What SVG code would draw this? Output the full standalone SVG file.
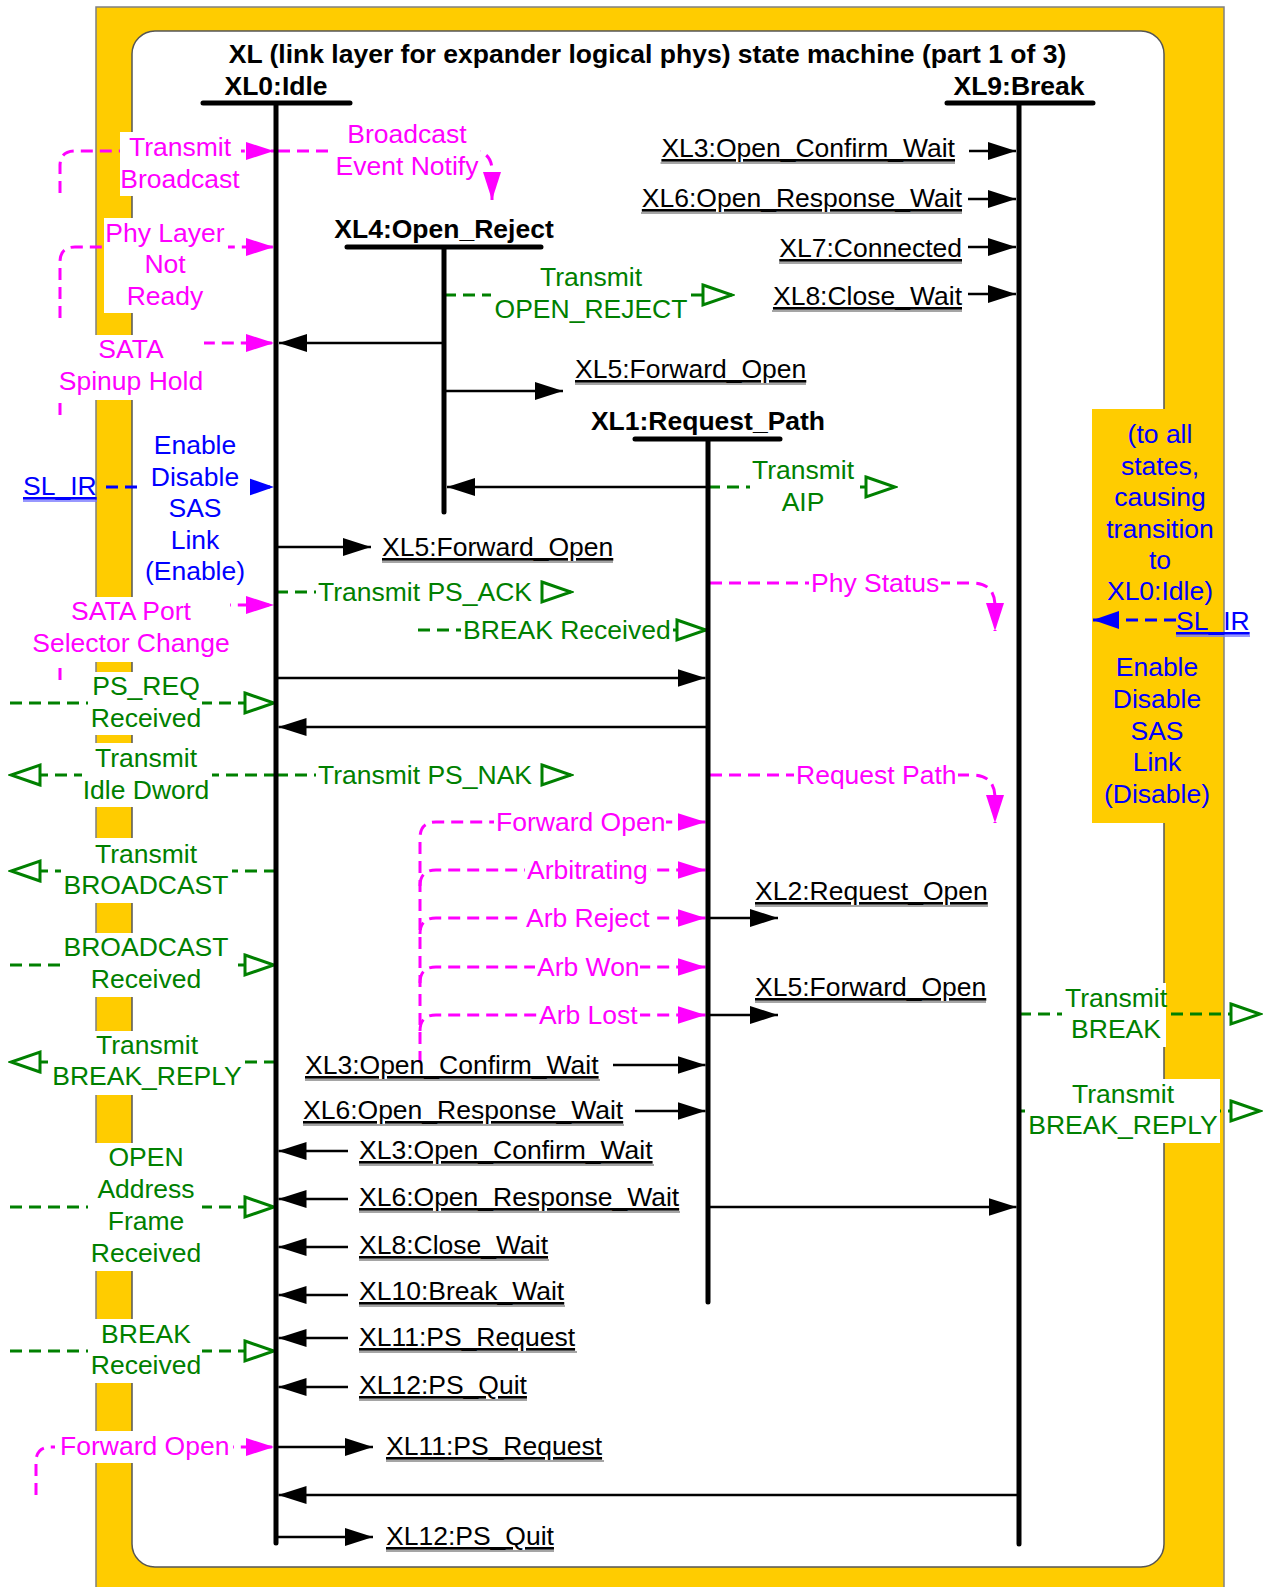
<svg xmlns="http://www.w3.org/2000/svg" width="1265" height="1587" viewBox="0 0 1265 1587">
<style>
.t{font-family:"Liberation Sans",Arial,sans-serif;font-size:26.5px}
.b{font-weight:bold}
.m{fill:#ff00ff}.g{fill:#008000}.bl{fill:#0000ff}.k{fill:#000}
.u{text-decoration:underline}
.mid{text-anchor:middle}.end{text-anchor:end}
.sl{stroke:#000;stroke-width:2.5;fill:none}
.dm{stroke:#ff00ff;stroke-width:3;stroke-dasharray:12 7;fill:none}
.dg{stroke:#008000;stroke-width:3;stroke-dasharray:12 7;fill:none}
.db{stroke:#0000ff;stroke-width:3;stroke-dasharray:12 7;fill:none}
.st{stroke:#000;stroke-width:5;stroke-linecap:round;fill:none}
.bg{fill:#fff}
.ul{stroke:#888;stroke-width:1.5}
.ulb{stroke:#7777ff;stroke-width:1.5}
</style>
<defs>
<marker id="ah" viewBox="0 0 28 18" refX="28" refY="9" markerWidth="28" markerHeight="18" markerUnits="userSpaceOnUse" orient="auto"><path d="M0,0 L28,9 L0,18 z" fill="#000"/></marker>
<marker id="am" viewBox="0 0 28 18" refX="28" refY="9" markerWidth="28" markerHeight="18" markerUnits="userSpaceOnUse" orient="auto"><path d="M0,0 L28,9 L0,18 z" fill="#ff00ff"/></marker>
<marker id="ab" viewBox="0 0 26 18" refX="26" refY="9" markerWidth="26" markerHeight="18" markerUnits="userSpaceOnUse" orient="auto"><path d="M0,0 L26,9 L0,18 z" fill="#0000ff"/></marker>
<marker id="ag" viewBox="-3 -3 36 26" refX="30" refY="10" markerWidth="36" markerHeight="26" markerUnits="userSpaceOnUse" orient="auto"><path d="M1,0 L30,10 L1,20 z" fill="#fff" stroke="#008000" stroke-width="3"/></marker>
</defs>

<g id="frame">
<rect x="96" y="7" width="1128" height="1600" fill="#ffcc00" stroke="#808080" stroke-width="1.5"/>
<rect x="132" y="31" width="1032" height="1536" rx="23" ry="23" fill="#fff" stroke="#555" stroke-width="1.5"/>
<rect x="1092" y="409" width="74" height="414" fill="#ffcc00"/>
</g>

<g id="connectors">
<path class="sl" d="M969,151 H1016" marker-end="url(#ah)"/>
<path class="sl" d="M968,199 H1016" marker-end="url(#ah)"/>
<path class="sl" d="M968,247 H1016" marker-end="url(#ah)"/>
<path class="sl" d="M968,294 H1016" marker-end="url(#ah)"/>
<path class="sl" d="M444,343 H279" marker-end="url(#ah)"/>
<path class="sl" d="M444,391 H563" marker-end="url(#ah)"/>
<path class="dg" d="M444,295 H732" marker-end="url(#ag)"/>
<path class="sl" d="M708,487 H447" marker-end="url(#ah)"/>
<path class="dg" d="M708,487 H895" marker-end="url(#ag)"/>
<path class="sl" d="M276,547 H371" marker-end="url(#ah)"/>
<path class="dg" d="M276,592 H571" marker-end="url(#ag)"/>
<path class="dg" d="M418,630 H706" marker-end="url(#ag)"/>
<path class="sl" d="M276,678 H705.5" marker-end="url(#ah)"/>
<path class="sl" d="M708,727 H278.5" marker-end="url(#ah)"/>
<path class="dg" d="M276,775 H571" marker-end="url(#ag)"/>
<path class="dg" d="M276,775 H11" marker-end="url(#ag)"/>
<path class="dm" d="M710,583 H972 Q995,583 995,606 V631" marker-end="url(#am)"/>
<path class="dm" d="M710,775 H972 Q995,775 995,798 V823" marker-end="url(#am)"/>
<path class="dm" d="M420,1063 V838 Q420,822 436,822 H705.5" marker-end="url(#am)"/>
<path class="dm" d="M420,886 Q420,870 436,870 H705.5" marker-end="url(#am)"/>
<path class="dm" d="M420,934 Q420,918 436,918 H705.5" marker-end="url(#am)"/>
<path class="dm" d="M420,983 Q420,967 436,967 H705.5" marker-end="url(#am)"/>
<path class="dm" d="M420,1031 Q420,1015 436,1015 H705.5" marker-end="url(#am)"/>
<path class="sl" d="M708,918 H778" marker-end="url(#ah)"/>
<path class="sl" d="M708,1015 H778" marker-end="url(#ah)"/>
<path class="sl" d="M613,1065 H705.5" marker-end="url(#ah)"/>
<path class="sl" d="M635,1111 H705.5" marker-end="url(#ah)"/>
<path class="sl" d="M708,1207 H1016.5" marker-end="url(#ah)"/>
<path class="sl" d="M348,1151 H278.5" marker-end="url(#ah)"/>
<path class="sl" d="M348,1199 H278.5" marker-end="url(#ah)"/>
<path class="sl" d="M348,1247 H278.5" marker-end="url(#ah)"/>
<path class="sl" d="M348,1295 H278.5" marker-end="url(#ah)"/>
<path class="sl" d="M348,1338 H278.5" marker-end="url(#ah)"/>
<path class="sl" d="M348,1387 H278.5" marker-end="url(#ah)"/>
<path class="sl" d="M276,1447 H373" marker-end="url(#ah)"/>
<path class="sl" d="M1019,1495 H278.5" marker-end="url(#ah)"/>
<path class="sl" d="M276,1537 H373" marker-end="url(#ah)"/>
<path class="dm" d="M60,193 V166 Q60,151 75,151 H274" marker-end="url(#am)"/>
<path class="dm" d="M278,151 H472 Q492,151 492,171 V200" marker-end="url(#am)"/>
<path class="dm" d="M60,318 V262 Q60,247 75,247 H274" marker-end="url(#am)"/>
<path class="dm" d="M60,415 V358 Q60,343 75,343 H274" marker-end="url(#am)"/>
<path class="db" d="M106,487 H274" marker-end="url(#ab)"/>
<path class="dm" d="M60,680 V620 Q60,605 75,605 H274" marker-end="url(#am)"/>
<path class="dg" d="M10,703 H274" marker-end="url(#ag)"/>
<path class="dg" d="M276,871 H11" marker-end="url(#ag)"/>
<path class="dg" d="M10,965 H274" marker-end="url(#ag)"/>
<path class="dg" d="M276,1062 H11" marker-end="url(#ag)"/>
<path class="dg" d="M10,1207 H274" marker-end="url(#ag)"/>
<path class="dg" d="M10,1351 H274" marker-end="url(#ag)"/>
<path class="dm" d="M36,1495 V1462 Q36,1447 51,1447 H274" marker-end="url(#am)"/>
<path class="dg" d="M1019,1014 H1260" marker-end="url(#ag)"/>
<path class="dg" d="M1019,1111 H1260" marker-end="url(#ag)"/>
<path class="db" d="M1176,620 H1093" marker-end="url(#ab)"/>
</g>

<g id="label-backgrounds">
<rect class="bg" x="120" y="132" width="121" height="64"/>
<rect class="bg" x="335" y="118" width="145" height="64"/>
<rect class="bg" x="104" y="218" width="124" height="95"/>
<rect class="bg" x="57" y="335" width="147" height="65"/>
<rect class="bg" x="140" y="428" width="110" height="160"/>
<rect class="bg" x="33" y="597" width="197" height="65"/>
<rect class="bg" x="88" y="672" width="114" height="63"/>
<rect class="bg" x="82" y="743" width="130" height="64"/>
<rect class="bg" x="61" y="838" width="171" height="65"/>
<rect class="bg" x="61" y="933" width="171" height="64"/>
<rect class="bg" x="51" y="1031" width="194" height="64"/>
<rect class="bg" x="88" y="1143" width="114" height="128"/>
<rect class="bg" x="88" y="1319" width="114" height="64"/>
<rect class="bg" x="55" y="1431" width="178" height="32"/>
<rect class="bg" x="491" y="262" width="196" height="63"/>
<rect class="bg" x="750" y="455" width="110" height="62"/>
<rect class="bg" x="1062" y="983" width="104" height="64"/>
<rect class="bg" x="1025" y="1079" width="195" height="64"/>
<rect class="bg" x="316" y="579" width="219" height="28"/>
<rect class="bg" x="461" y="617" width="212" height="28"/>
<rect class="bg" x="316" y="762" width="219" height="28"/>
<rect class="bg" x="809" y="570" width="132" height="28"/>
<rect class="bg" x="794" y="762" width="164" height="28"/>
<rect class="bg" x="494" y="809" width="172" height="28"/>
<rect class="bg" x="525" y="857" width="125" height="28"/>
<rect class="bg" x="524" y="905" width="127" height="28"/>
<rect class="bg" x="535" y="954" width="105" height="28"/>
<rect class="bg" x="537" y="1002" width="103" height="28"/>
</g>

<g id="XL0">
<path class="st" d="M203,103 H350 M276,103 V1543"/>
<text class="t b mid k" x="276" y="95">XL0:Idle</text>
</g>
<g id="XL9">
<path class="st" d="M947,103 H1093 M1019,103 V1544"/>
<text class="t b mid k" x="1019" y="95">XL9:Break</text>
</g>
<g id="XL4">
<path class="st" d="M347,247 H541 M444,247 V512"/>
<text class="t b mid k" x="444" y="238">XL4:Open_Reject</text>
</g>
<g id="XL1">
<path class="st" d="M635,439 H780 M708,439 V1302"/>
<text class="t b mid k" x="708" y="430">XL1:Request_Path</text>
</g>

<g id="title">
<text class="t b mid k" x="647.5" y="63">XL (link layer for expander logical phys) state machine (part 1 of 3)</text>
</g>

<g id="underlines">
<path class="ul" d="M660.5,163 H955 M641,213 H962 M779,263 H962 M772,311 H962 M575,384 H806 M382,562 H613 M755,906 H988 M755,1002 H986 M305,1080 H600 M303,1125 H624 M359,1165 H654 M359,1212 H680 M359,1260 H549 M359,1306 H565 M359,1352 H577 M359,1400 H527 M386,1461 H604 M386,1551 H554"/>
<path class="ulb" d="M23,501 H97 M1176,636 H1250"/>
</g>

<g id="labels">
<text class="t k u end" x="955" y="157">XL3:Open_Confirm_Wait</text>
<text class="t k u end" x="962" y="207">XL6:Open_Response_Wait</text>
<text class="t k u end" x="962" y="257">XL7:Connected</text>
<text class="t k u end" x="962" y="305">XL8:Close_Wait</text>
<text class="t k u" x="575" y="378">XL5:Forward_Open</text>
<text class="t k u" x="382" y="556">XL5:Forward_Open</text>
<text class="t k u" x="755" y="900">XL2:Request_Open</text>
<text class="t k u" x="755" y="996">XL5:Forward_Open</text>
<text class="t k u" x="305" y="1074">XL3:Open_Confirm_Wait</text>
<text class="t k u" x="303" y="1119">XL6:Open_Response_Wait</text>
<text class="t k u" x="359" y="1159">XL3:Open_Confirm_Wait</text>
<text class="t k u" x="359" y="1206">XL6:Open_Response_Wait</text>
<text class="t k u" x="359" y="1254">XL8:Close_Wait</text>
<text class="t k u" x="359" y="1300">XL10:Break_Wait</text>
<text class="t k u" x="359" y="1346">XL11:PS_Request</text>
<text class="t k u" x="359" y="1394">XL12:PS_Quit</text>
<text class="t k u" x="386" y="1455">XL11:PS_Request</text>
<text class="t k u" x="386" y="1545">XL12:PS_Quit</text>
<text class="t bl u" x="23" y="495">SL_IR</text>
<text class="t bl u" x="1176" y="630">SL_IR</text>

<text class="t m mid" x="180"><tspan x="180" y="156">Transmit</tspan><tspan x="180" y="188">Broadcast</tspan></text>
<text class="t m mid" x="407"><tspan x="407" y="143">Broadcast</tspan><tspan x="407" y="175">Event Notify</tspan></text>
<text class="t m mid" x="165"><tspan x="165" y="242">Phy Layer</tspan><tspan x="165" y="273">Not</tspan><tspan x="165" y="305">Ready</tspan></text>
<text class="t m mid" x="131"><tspan x="131" y="358">SATA</tspan><tspan x="131" y="390">Spinup Hold</tspan></text>
<text class="t m mid" x="131"><tspan x="131" y="620">SATA Port</tspan><tspan x="131" y="652">Selector Change</tspan></text>
<text class="t m" x="60" y="1455">Forward Open</text>
<text class="t m" x="811" y="592">Phy Status</text>
<text class="t m" x="796" y="784">Request Path</text>
<text class="t m" x="496" y="831">Forward Open</text>
<text class="t m" x="527" y="879">Arbitrating</text>
<text class="t m" x="526" y="927">Arb Reject</text>
<text class="t m" x="537" y="976">Arb Won</text>
<text class="t m" x="539" y="1024">Arb Lost</text>

<text class="t bl mid" x="195"><tspan x="195" y="454">Enable</tspan><tspan x="195" y="486">Disable</tspan><tspan x="195" y="517">SAS</tspan><tspan x="195" y="549">Link</tspan><tspan x="195" y="580">(Enable)</tspan></text>
<text class="t bl mid" x="1160"><tspan x="1160" y="443">(to all</tspan><tspan x="1160" y="475">states,</tspan><tspan x="1160" y="506">causing</tspan><tspan x="1160" y="538">transition</tspan><tspan x="1160" y="569">to</tspan><tspan x="1160" y="600">XL0:Idle)</tspan></text>
<text class="t bl mid" x="1157"><tspan x="1157" y="676">Enable</tspan><tspan x="1157" y="708">Disable</tspan><tspan x="1157" y="740">SAS</tspan><tspan x="1157" y="771">Link</tspan><tspan x="1157" y="803">(Disable)</tspan></text>

<text class="t g mid" x="591"><tspan x="591" y="286">Transmit</tspan><tspan x="591" y="318">OPEN_REJECT</tspan></text>
<text class="t g mid" x="803"><tspan x="803" y="479">Transmit</tspan><tspan x="803" y="511">AIP</tspan></text>
<text class="t g" x="318" y="601">Transmit PS_ACK</text>
<text class="t g" x="463" y="639">BREAK Received</text>
<text class="t g" x="318" y="784">Transmit PS_NAK</text>
<text class="t g mid" x="146"><tspan x="146" y="695">PS_REQ</tspan><tspan x="146" y="727">Received</tspan></text>
<text class="t g mid" x="146"><tspan x="146" y="767">Transmit</tspan><tspan x="146" y="799">Idle Dword</tspan></text>
<text class="t g mid" x="146"><tspan x="146" y="863">Transmit</tspan><tspan x="146" y="894">BROADCAST</tspan></text>
<text class="t g mid" x="146"><tspan x="146" y="956">BROADCAST</tspan><tspan x="146" y="988">Received</tspan></text>
<text class="t g mid" x="147"><tspan x="147" y="1054">Transmit</tspan><tspan x="147" y="1085">BREAK_REPLY</tspan></text>
<text class="t g mid" x="146"><tspan x="146" y="1166">OPEN</tspan><tspan x="146" y="1198">Address</tspan><tspan x="146" y="1230">Frame</tspan><tspan x="146" y="1262">Received</tspan></text>
<text class="t g mid" x="146"><tspan x="146" y="1343">BREAK</tspan><tspan x="146" y="1374">Received</tspan></text>
<text class="t g mid" x="1116"><tspan x="1116" y="1007">Transmit</tspan><tspan x="1116" y="1038">BREAK</tspan></text>
<text class="t g mid" x="1123"><tspan x="1123" y="1103">Transmit</tspan><tspan x="1123" y="1134">BREAK_REPLY</tspan></text>
</g>
</svg>
